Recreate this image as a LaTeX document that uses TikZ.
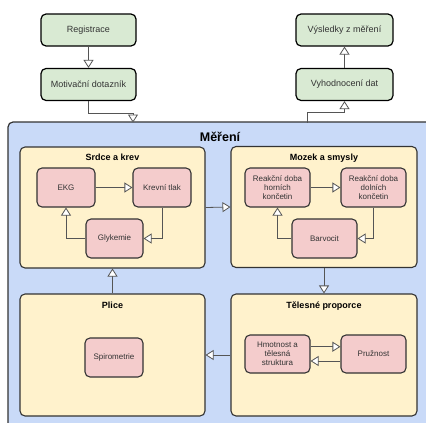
\documentclass[tikz,border=0pt]{standalone}
\usepackage{fontspec}
\setmainfont{Liberation Sans}
\usetikzlibrary{arrows.meta,calc}
\definecolor{gfill}{HTML}{D9EAD3}
\definecolor{bfill}{HTML}{C9DAF8}
\definecolor{yfill}{HTML}{FFF2CC}
\definecolor{pfill}{HTML}{F4CCCC}
\definecolor{edge}{HTML}{333333}
\definecolor{conn}{HTML}{555555}
\definecolor{txt}{HTML}{333333}
\tikzset{
  greenbox/.style={draw=black, line width=1.2pt, fill=gfill, rounded corners=5pt,
    minimum width=95pt, minimum height=32pt, inner sep=0pt, text=txt,
    font=\fontsize{9}{10}\selectfont},
  groupbox/.style={draw=edge, line width=1.1pt, fill=yfill, rounded corners=5pt,
    minimum width=185pt, minimum height=121pt, inner sep=0pt},
  pinkbox/.style={draw=edge, line width=1.1pt, fill=pfill, rounded corners=5pt,
    minimum width=58pt, minimum height=39pt, inner sep=0pt, text=txt, align=center,
    font=\fontsize{8}{9}\selectfont},
  grouptitle/.style={font=\bfseries\fontsize{9}{10}\selectfont, text=black, inner sep=0pt},
  arr/.style={draw=conn, line width=0.8pt,
    -{Triangle[fill=white, length=8pt, width=10pt, line width=0.8pt]}}
}
\begin{document}
\begin{tikzpicture}[x=1pt, y=-1pt]
\useasboundingbox (0,0) rectangle (426,423);
\fill[white] (0,0) rectangle (426,423);
\clip (0,0) rectangle (426,423);
% Měření container
\node[draw=edge, line width=1.2pt, fill=bfill, rounded corners=5pt, minimum width=432pt,
  minimum height=320pt, inner sep=0pt] (mereni) at (224,282) {};
\node[font=\bfseries\fontsize{12.5}{14}\selectfont, text=black] (mtitle) at (220,137) {Měření};
% top boxes
\node[greenbox] (reg) at (88.5,30) {Registrace};
\node[greenbox] (mot) at (88.5,84.5) {Motivační dotazník};
\node[greenbox, minimum width=97pt] (vys) at (344.5,30) {Výsledky z měření};
\node[greenbox, minimum width=97pt] (vyh) at (344.5,84.5) {Vyhodnocení dat};
% groups
\node[groupbox] (srdce) at (112.5,207.5) {};
\node[groupbox, minimum width=186pt] (mozek) at (324,207) {};
\node[groupbox, minimum width=186pt, minimum height=122pt] (tel) at (324,355) {};
\node[groupbox, minimum height=122pt] (plice) at (112.5,355) {};
\node[grouptitle] (tsrdce) at (112.5,157.5) {Srdce a krev};
\node[grouptitle] (tmozek) at (324,158) {Mozek a smysly};
\node[grouptitle] (ttel) at (324,306) {Tělesné proporce};
\node[grouptitle] (tplice) at (112.5,305.5) {Plice};
% inner boxes
\node[pinkbox] (ekg) at (66,187.5) {EKG};
\node[pinkbox] (krev) at (162,187.5) {Krevní tlak};
\node[pinkbox, minimum width=57pt] (gly) at (114.5,238.5) {Glykemie};
\node[pinkbox, minimum width=65pt] (rdh) at (277.5,187.5) {Reakční doba\\horních\\končetin};
\node[pinkbox, minimum width=65pt] (rdd) at (373.5,187.5) {Reakční doba\\dolních\\končetin};
\node[pinkbox, minimum width=65pt] (barv) at (324.5,238.5) {Barvocit};
\node[pinkbox, minimum width=65pt, minimum height=38pt] (hm) at (277.5,354) {Hmotnost a\\tělesná\\struktura};
\node[pinkbox, minimum width=65pt, minimum height=38pt] (pr) at (373.5,354) {Pružnost};
\node[pinkbox] (spiro) at (114,357.5) {Spirometrie};
% connectors outside
\coordinate (mIn) at (133,122.5);
\coordinate (mOut) at (307,122.5);
\draw[arr] (reg.south) -- (mot.north);
\draw[arr] (mot.south) -- ++(0,12.5) -| (mIn);
\draw[arr] (mOut) -- ++(0,-10) -| (vyh.south);
\draw[arr] (vyh.north) -- (vys.south);
% group connectors
\draw[arr] (srdce.east) -- (mozek.west);
\draw[arr] (mozek.south) -- (tel.north);
\draw[arr] (tel.west) -- (plice.east);
\draw[arr] (plice.north) -- (srdce.south);
% inner connectors
\draw[arr] (ekg.east) -- (krev.west);
\draw[arr] (krev.south) |- (gly.east);
\draw[arr] (gly.west) -| (ekg.south);
\draw[arr] (rdh.east) -- (rdd.west);
\draw[arr] (rdd.south) |- (barv.east);
\draw[arr] (barv.west) -| (rdh.south);
\draw[arr] ([yshift=7.3pt]hm.east) -- ([yshift=7.3pt]pr.west);
\draw[arr] ([yshift=-7pt]pr.west) -- ([yshift=-7pt]hm.east);
\end{tikzpicture}
\end{document}
